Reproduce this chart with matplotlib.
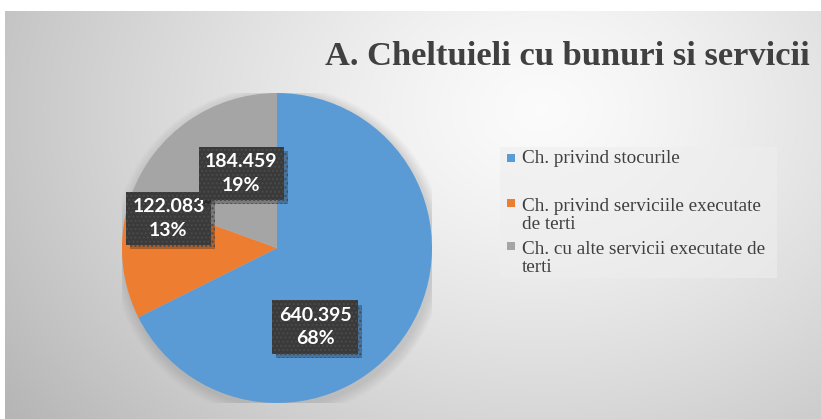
import numpy as np
import matplotlib.pyplot as plt
import matplotlib.patheffects as pe
from matplotlib.patches import Rectangle, Circle

# data
labels = ['Ch. privind stocurile',
          'Ch. privind serviciile executate\nde terti',
          'Ch. cu alte servicii executate de\nterti']
values = [640395, 122083, 184459]
colors = ['#5B9BD5', '#ED7D31', '#A5A5A5']
title = 'A. Cheltuieli cu bunuri si servicii'

W, H = 821, 419
fig = plt.figure(figsize=(W / 100, H / 100), dpi=100)
fig.patch.set_facecolor('white')

# gradient background of the chart area
bg = fig.add_axes([5 / W, 0, (W - 5) / W, (H - 11) / H])
xx, yy = np.meshgrid(np.arange(5, W), np.arange(11, H))
d = np.sqrt(((xx - 540) / 560.0) ** 2 + ((yy - 110) / 430.0) ** 2)
g = 0.985 - 0.22 * np.clip(d, 0, 1.2) ** 1.3
bg.imshow(np.dstack([g, g, g]), aspect='auto', interpolation='bilinear')
bg.axis('off')

# pie
ax = fig.add_axes([122 / W, 16 / H, 310 / W, 310 / H])
for k in range(12):
    r = 1.0 + 0.006 * (12 - k)
    ax.add_patch(Circle((0.01, -0.025), r, color='#808080', alpha=0.025, lw=0))
wedges, _ = ax.pie(values, colors=colors, startangle=90, counterclock=False,
                   radius=1, wedgeprops=dict(linewidth=0))
ax.set_xlim(-1, 1)
ax.set_ylim(-1, 1)
ax.set_aspect('equal')
ax.axis('off')

# data labels (dark boxes)
total = sum(values)
label_pos = [(0.245, -0.51), (-0.70, 0.19), (-0.23, 0.48)]
zorders = [5, 5, 6]
for v, (px, py), z in zip(values, label_pos, zorders):
    txt = '{:,}'.format(v).replace(',', '.') + '\n' + '{:.0f}%'.format(100 * v / total)
    t = ax.text(px, py, txt, ha='center', va='center', fontsize=14, fontweight='bold',
                family='Lato', color='white', linespacing=1.45, zorder=z,
                bbox=dict(boxstyle='square,pad=0.33', fc='#3a3a3a', ec='#4a4a4a', lw=0,
                          hatch='....'))
    t.get_bbox_patch().set_path_effects([
        pe.SimplePatchShadow(offset=(3, -3), shadow_rgbFace='black', alpha=0.25),
        pe.Normal()])

# title
fig.text(325 / W, 1 - 65 / H, title, family='Liberation Serif', fontweight='bold',
         fontsize=24.8, color='#404040', va='baseline', ha='left')

# legend box
fig.patches.append(Rectangle((500 / W, 1 - 278 / H), 277 / W, 131 / H,
                             transform=fig.transFigure, fc='#eeeeee', ec='none',
                             alpha=0.6, zorder=1))
leg_top = [163, 208, 251]
for lab, c, yb in zip(labels, colors, leg_top):
    nl = lab.count('\n')
    fig.patches.append(Rectangle((507 / W, 1 - (yb - 1) / H), 8 / W, 8 / H,
                                 transform=fig.transFigure, fc=c, ec='none', zorder=3))
    fig.text(522 / W, 1 - (yb + 20.5 * nl) / H, lab, family='Liberation Serif',
             fontsize=13.8, color='#404040', va='baseline', ha='left', linespacing=1.07)

fig.savefig('out.png', dpi=100)
